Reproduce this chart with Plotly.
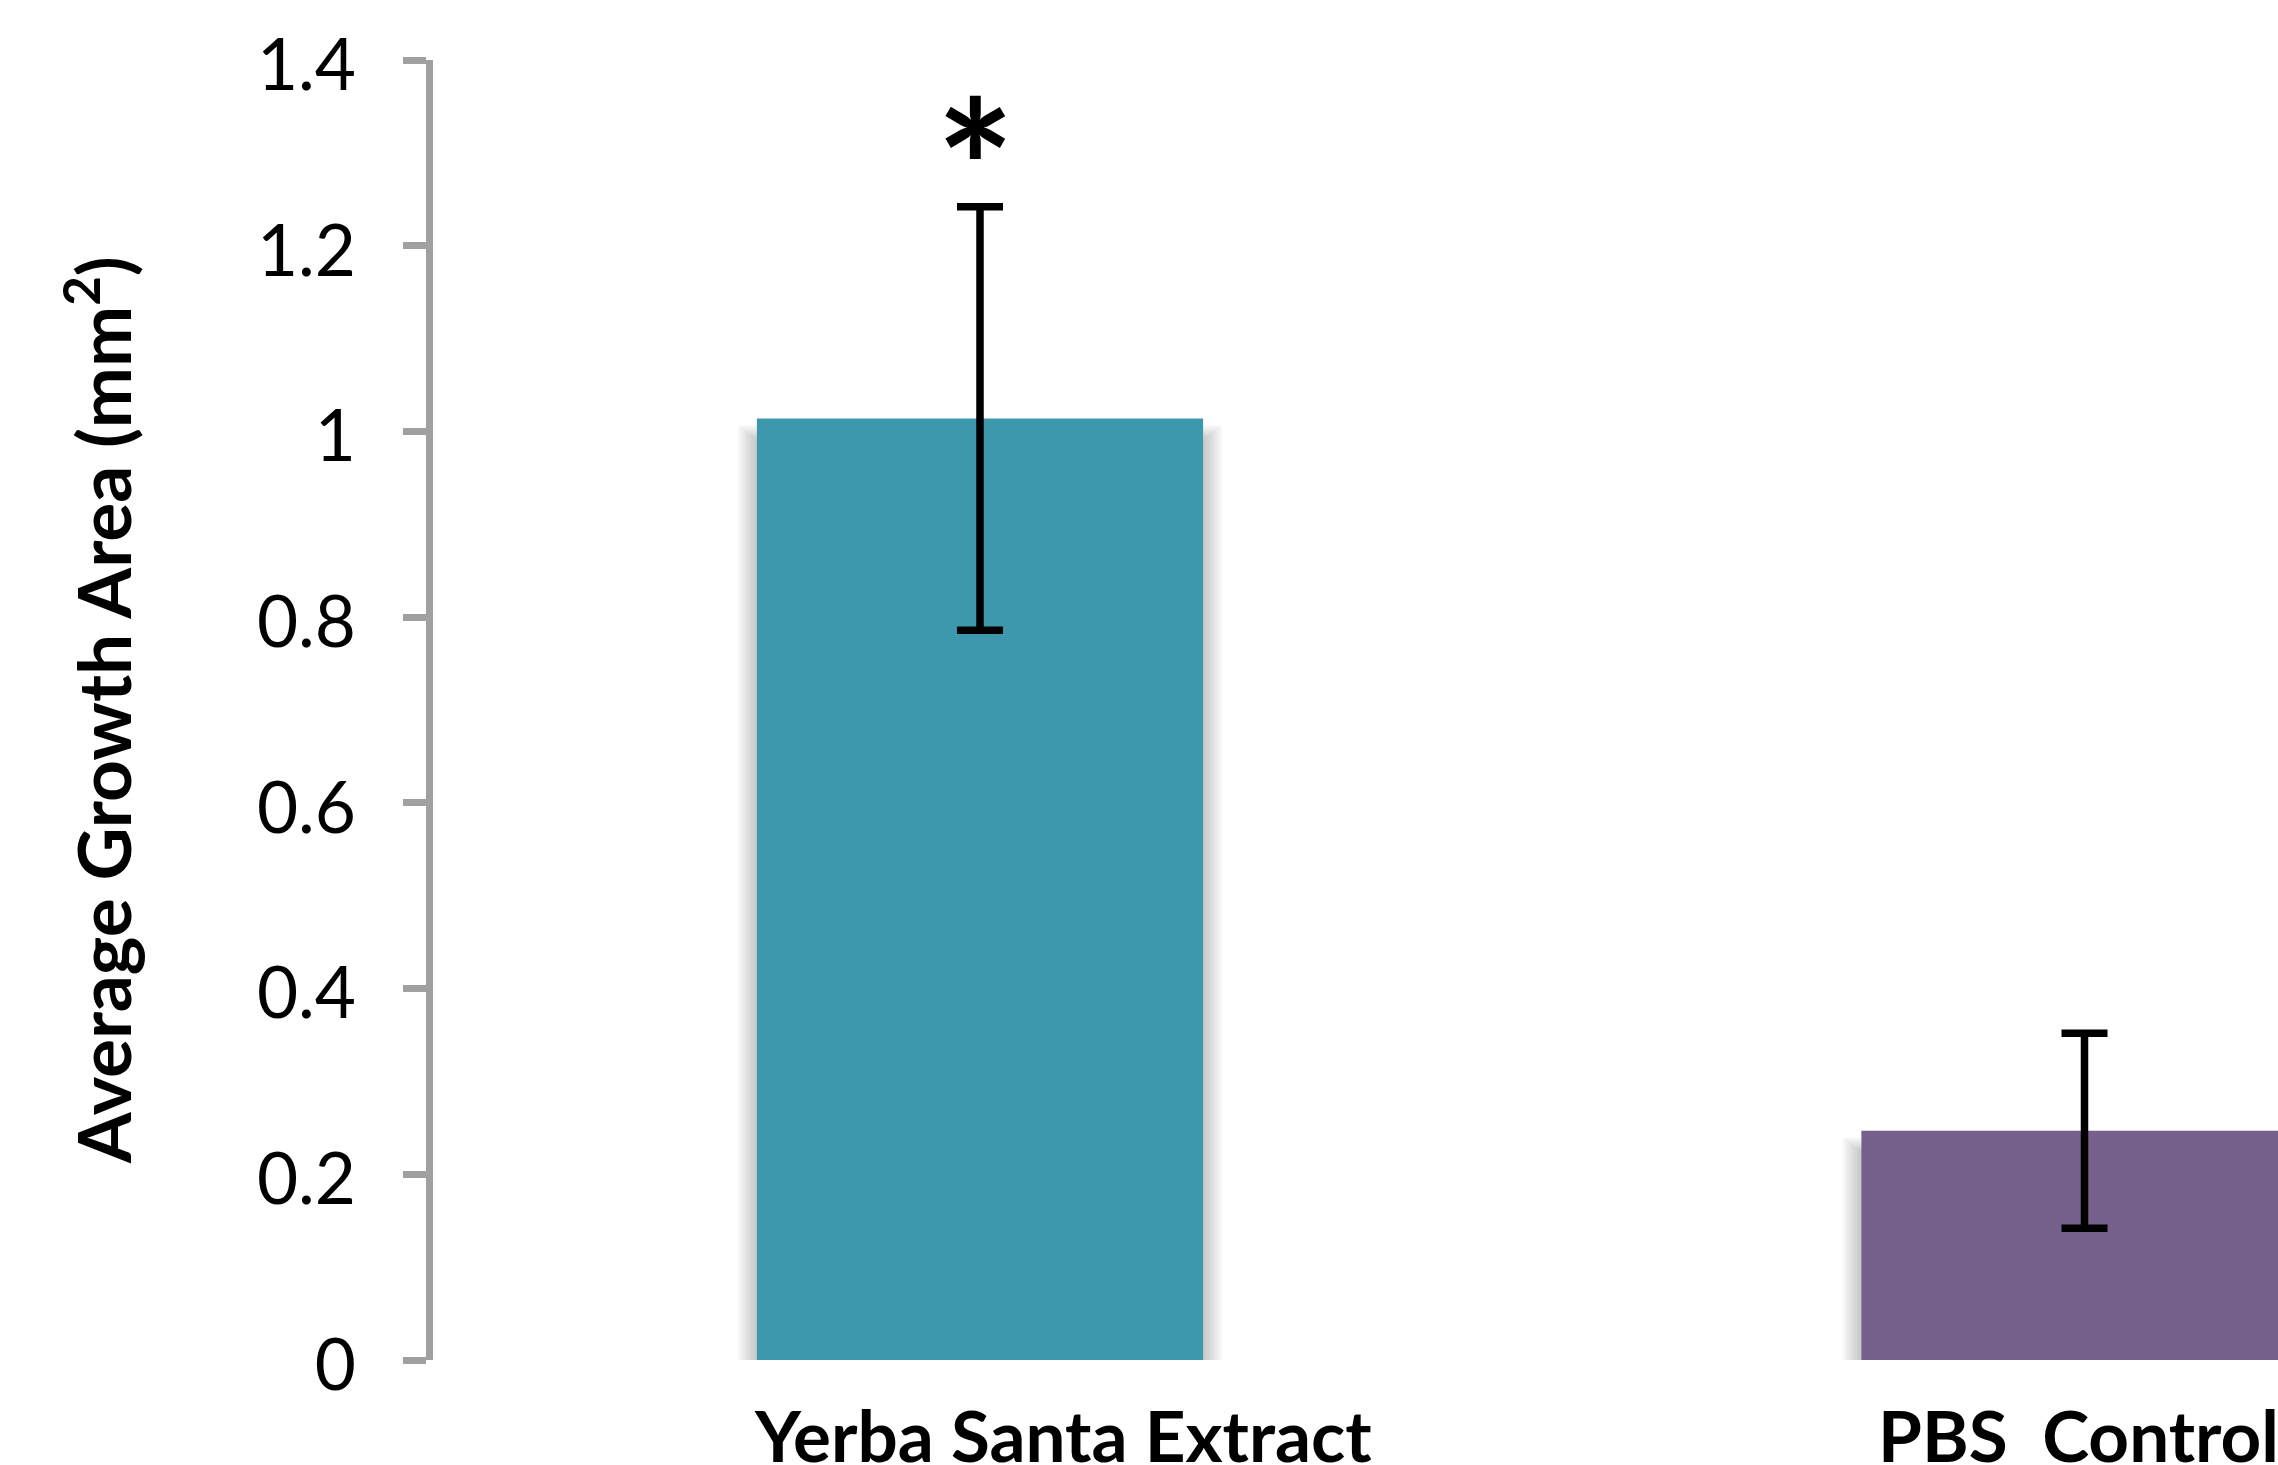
import plotly.graph_objects as go

# --- data -------------------------------------------------------------
categories = ["Yerba Santa Extract", "PBS  Control"]
mean_area = [1.014, 0.247]          # average growth area, mm^2
sem_area = [0.228, 0.105]           # error bar half-lengths
significance = ["*", ""]            # marker drawn above each bar
sig_y = [1.327, None]               # height of the marker centre
y_ticks = [0, 0.2, 0.4, 0.6, 0.8, 1.0, 1.2, 1.4]
y_tick_text = ["0", "0.2", "0.4", "0.6", "0.8", "1", "1.2", "1.4"]

# --- styling / layout constants ----------------------------------------
W, H = 2278, 1465
M_L, M_R, M_T, M_B = 433, 0, 60, 105
CAT_PX = 1104.5          # pixel width of one category slot
FIRST_CAT_PX = 980       # pixel centre of first category
BAR_W = 0.404
BAR_COLORS = ["#3D97AD", "#76618C"]
AXIS_GRAY = "#A0A0A0"
FONT = "Lato"
LABEL_SHIFT = [83, -6]   # horizontal offset of category captions (px)

plot_w = W - M_L - M_R
plot_h = H - M_T - M_B
x0 = -(FIRST_CAT_PX - M_L) / CAT_PX
x1 = x0 + plot_w / CAT_PX
y_range = [0, 1.4]
px_per_y = plot_h / (y_range[1] - y_range[0])

fig = go.Figure()

fig.add_trace(go.Bar(
    x=list(range(len(categories))),
    y=mean_area,
    width=BAR_W,
    marker=dict(color=BAR_COLORS, line=dict(width=0)),
    error_y=dict(type="data", array=sem_area, visible=True,
                 color="black", thickness=7.5, width=23),
    hoverinfo="skip",
))

# soft drop shadow behind each bar, built from stacked translucent rects
shapes = []
n_layers = 8
spread_px = 2.4
drop_px = 22
for i, v in enumerate(mean_area):
    for k in range(1, n_layers + 1):
        dx = k * spread_px / CAT_PX
        top = v - (drop_px - k * spread_px * 0.8) / px_per_y
        shapes.append(dict(
            type="rect", layer="below", xref="x", yref="y",
            x0=i - BAR_W / 2 - dx, x1=i + BAR_W / 2 + dx,
            y0=0, y1=top,
            line=dict(width=0), fillcolor="rgba(0,0,0,0.028)",
        ))

annotations = []
# category captions
for i, name in enumerate(categories):
    annotations.append(dict(
        x=i, xref="x", y=(M_T + plot_h - 1390) / plot_h, yref="paper",
        text="<b>%s</b>" % name.replace("  ", "&nbsp; "),
        showarrow=False, xanchor="center", yanchor="top",
        xshift=LABEL_SHIFT[i],
        font=dict(family=FONT, size=71, color="black"),
    ))
# significance markers above error bars
for i, mark in enumerate(significance):
    if mark:
        annotations.append(dict(
            x=i, xref="x", y=sig_y[i], yref="y",
            text="<b>%s</b>" % mark, showarrow=False,
            xanchor="center", yanchor="middle", xshift=-5, yshift=-37,
            font=dict(family=FONT, size=185, color="black"),
        ))
# y-axis title
annotations.append(dict(
    x=(98 - M_L) / plot_w, xref="paper", y=0.5, yref="paper",
    text="<b>Average Growth Area (mm<sup>2</sup>)</b>",
    textangle=-90, showarrow=False, xanchor="center", yanchor="middle",
    font=dict(family=FONT, size=73, color="black"),
))

fig.update_layout(
    width=W, height=H,
    margin=dict(l=M_L, r=M_R, t=M_T, b=M_B, pad=0),
    paper_bgcolor="white", plot_bgcolor="white",
    showlegend=False,
    shapes=shapes,
    annotations=annotations,
    xaxis=dict(range=[x0, x1], showticklabels=False, showgrid=False,
               zeroline=False, showline=False, ticks=""),
    yaxis=dict(range=y_range, tickvals=y_ticks, ticktext=y_tick_text,
               showgrid=False, zeroline=False,
               showline=True, linecolor=AXIS_GRAY, linewidth=6.5,
               ticks="outside", ticklen=23, tickwidth=6.5, tickcolor=AXIS_GRAY,
               tickfont=dict(family=FONT, size=71, color="black"),
               ticklabelstandoff=33, ticklabelshift=5),
)

fig.write_html("out.html")
